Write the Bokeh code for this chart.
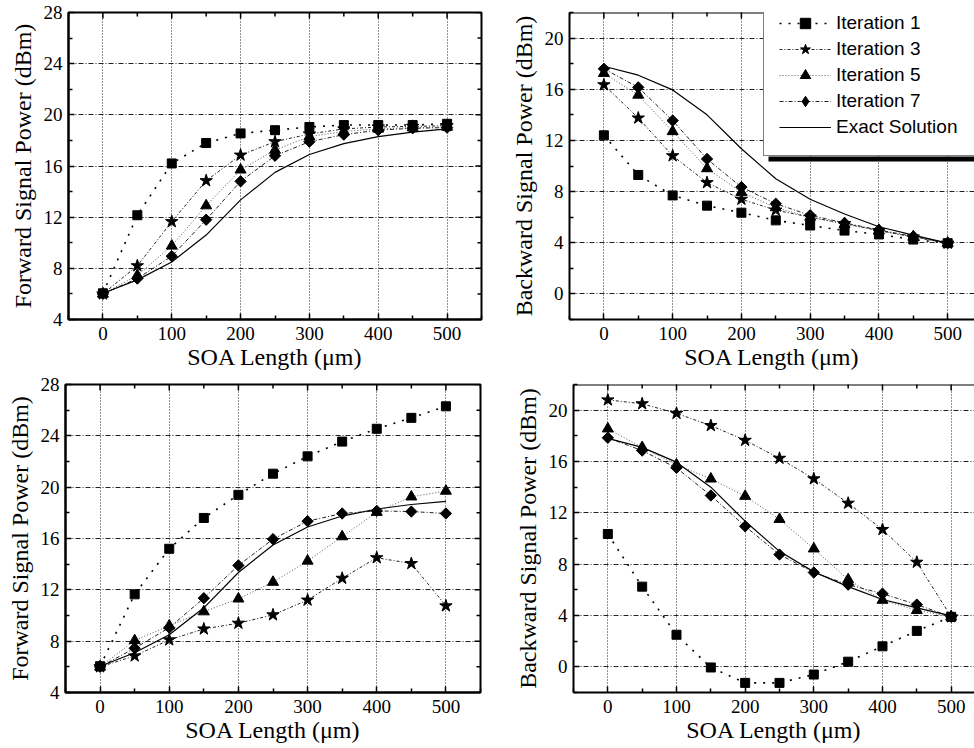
from bokeh.plotting import figure
from bokeh.layouts import column, row
from bokeh.models import Range1d, FixedTicker, Legend, LegendItem, BoxAnnotation, Span
from bokeh.embed import file_html
from bokeh.resources import INLINE

# ---------------- data ----------------
length_um = [0, 50, 100, 150, 200, 250, 300, 350, 400, 450, 500]

x_ticks = [0, 100, 200, 300, 400, 500]
x_minor = [-50, 50, 150, 250, 350, 450, 550]
fwd_ticks = [4, 8, 12, 16, 20, 24, 28]
fwd_minor = [6, 10, 14, 18, 22, 26]
bwd_ticks = [0, 4, 8, 12, 16, 20]
bwd_minor = [-2, 2, 6, 10, 14, 18, 22]

# exact solutions
fwd_exact = [6.05, 7.1, 8.5, 10.6, 13.35, 15.5, 16.9, 17.75, 18.3, 18.65, 18.9]
bwd_exact = [17.8, 17.1, 15.95, 14.0, 11.35, 9.0, 7.4, 6.25, 5.25, 4.6, 3.97]

# panel (top-left): forward power
fwd_a_iter1 = [6.05, 12.15, 16.2, 17.8, 18.55, 18.8, 19.05, 19.2, 19.2, 19.2, 19.3]
fwd_a_iter3 = [6.0, 8.2, 11.65, 14.85, 16.85, 17.9, 18.5, 18.9, 19.05, 19.1, 19.15]
fwd_a_iter5 = [6.0, 7.45, 9.75, 12.9, 15.7, 17.25, 18.3, 18.7, 18.9, 19.0, 19.05]
fwd_a_iter7 = [6.0, 7.2, 8.95, 11.8, 14.8, 16.8, 17.9, 18.45, 18.8, 18.95, 19.0]

# panel (top-right): backward power
bwd_b_iter1 = [12.4, 9.3, 7.7, 6.9, 6.35, 5.75, 5.35, 4.95, 4.65, 4.25, 3.97]
bwd_b_iter3 = [16.35, 13.75, 10.8, 8.7, 7.4, 6.55, 6.0, 5.5, 4.95, 4.45, 3.97]
bwd_b_iter5 = [17.25, 15.55, 12.7, 9.8, 7.95, 6.75, 6.0, 5.45, 4.95, 4.45, 3.97]
bwd_b_iter7 = [17.6, 16.15, 13.55, 10.55, 8.35, 7.05, 6.15, 5.55, 5.0, 4.5, 3.97]

# panel (bottom-left): forward power
fwd_c_iter1 = [6.05, 11.65, 15.2, 17.6, 19.4, 21.05, 22.4, 23.55, 24.55, 25.4, 26.3]
fwd_c_iter3 = [6.0, 6.85, 8.1, 8.95, 9.4, 10.05, 11.2, 12.9, 14.5, 14.05, 10.75]
fwd_c_iter5 = [6.0, 8.05, 9.2, 10.3, 11.3, 12.6, 14.25, 16.15, 18.05, 19.25, 19.7]
fwd_c_iter7 = [6.0, 7.45, 9.05, 11.35, 13.9, 15.95, 17.35, 17.95, 18.15, 18.1, 17.95]

# panel (bottom-right): backward power
bwd_d_iter1 = [10.35, 6.25, 2.5, -0.05, -1.25, -1.25, -0.6, 0.4, 1.6, 2.8, 3.9]
bwd_d_iter3 = [20.8, 20.5, 19.75, 18.8, 17.65, 16.25, 14.65, 12.75, 10.7, 8.15, 3.9]
bwd_d_iter5 = [18.55, 17.1, 15.75, 14.65, 13.3, 11.5, 9.2, 6.8, 5.2, 4.4, 3.9]
bwd_d_iter7 = [17.85, 16.85, 15.5, 13.35, 10.95, 8.75, 7.35, 6.4, 5.7, 4.85, 3.9]

series_labels = ["Iteration 1", "Iteration 3", "Iteration 5", "Iteration 7", "Exact Solution"]

SERIF = "Liberation Serif"
SANS = "Liberation Sans"
ROT = 0.7853981633974483

# style per series: (line_dash, line_color, line_width, marker, marker_size, angle, legend_marker)
styles = [
    ("2 7", "black", 1.6, "square", 9, 0.0, None),
    ("3 2 1 2", "#222222", 1.0, "star", 13, 0.0, None),
    ("1 2", "#555555", 1.0, "triangle", 11, 0.0, None),
    ("4 2 1 2", "#222222", 1.0, "square", 8, ROT, "diamond"),
    ("solid", "black", 1.2, None, 0, 0.0, None),
]


def style_axis(ax):
    ax.axis_line_width = 2
    ax.axis_line_color = "black"
    ax.major_tick_in = 6
    ax.major_tick_out = 0
    ax.minor_tick_in = 4
    ax.minor_tick_out = 0
    ax.major_tick_line_width = 1.5
    ax.minor_tick_line_width = 1.5
    ax.major_tick_line_color = "black"
    ax.minor_tick_line_color = "black"
    ax.major_label_text_font = SERIF
    ax.major_label_text_font_size = "19px"
    ax.major_label_text_color = "black"
    ax.axis_label_text_font = SERIF
    ax.axis_label_text_font_size = "24px"
    ax.axis_label_text_font_style = "normal"
    ax.axis_label_text_color = "black"


def make_panel(width, height, mb_left, mb_right, mb_top, mb_bottom, x_end,
               y_start, y_end, yt, ym, ylabel, ys, right_side):
    p = figure(width=width, height=height, output_backend="svg", toolbar_location=None,
               x_range=Range1d(-50, x_end), y_range=Range1d(y_start, y_end),
               min_border_left=mb_left, min_border_right=mb_right,
               min_border_top=mb_top, min_border_bottom=mb_bottom)
    p.background_fill_color = "white"
    p.border_fill_color = "white"
    if right_side:
        p.outline_line_color = "black"
        p.outline_line_width = 2
    else:
        p.outline_line_color = None
        p.add_layout(Span(location=y_end, dimension="width", line_color="black", line_width=2))
    p.xaxis.ticker = FixedTicker(ticks=x_ticks, minor_ticks=x_minor)
    p.yaxis.ticker = FixedTicker(ticks=yt, minor_ticks=ym)
    p.xaxis.axis_label = "SOA Length (μm)"
    p.yaxis.axis_label = ylabel
    style_axis(p.xaxis[0])
    style_axis(p.yaxis[0])
    p.xaxis.major_label_standoff = 7
    p.xaxis.axis_label_standoff = 1
    p.yaxis.major_label_standoff = 6
    p.yaxis.axis_label_standoff = 5
    p.xgrid.grid_line_color = "#222222"
    p.xgrid.grid_line_dash = "1 2"
    p.xgrid.grid_line_width = 1
    p.ygrid.grid_line_color = "#222222"
    p.ygrid.grid_line_dash = "5 2 1 2"
    p.ygrid.grid_line_width = 1

    # inward ticks on the top edge (and right edge), half of each dash is clipped by the frame
    p.scatter(x_ticks, [y_end] * len(x_ticks), marker="dash", angle=ROT * 2, size=12,
              line_color="black", line_width=1.5)
    p.scatter(x_minor, [y_end] * len(x_minor), marker="dash", angle=ROT * 2, size=8,
              line_color="black", line_width=1.5)
    if right_side:
        p.scatter([x_end] * len(yt), yt, marker="dash", size=12, line_color="black", line_width=1.5)
        p.scatter([x_end] * len(ym), ym, marker="dash", size=8, line_color="black", line_width=1.5)

    items = []
    for lab, yv, st in zip(series_labels, ys, styles):
        dash, col, lw, mk, ms, ang, lmk = st
        rs = [p.line(length_um, yv, line_color=col, line_width=lw, line_dash=dash)]
        if mk is not None:
            if lmk is not None:
                # narrow diamond (used by the legend), hidden under the rotated square
                rs.append(p.scatter(length_um, yv, marker=lmk, size=ms + 2,
                                    fill_color="black", line_color="black"))
            r = p.scatter(length_um, yv, marker=mk, size=ms, angle=ang,
                          fill_color="black", line_color="black")
            if lmk is None:
                rs.append(r)
        items.append(LegendItem(label=lab, renderers=rs))
    return p, items


p1, _ = make_panel(490, 372, 68, 9, 12, 52, 550, 4, 28, fwd_ticks, fwd_minor,
                   "Forward Signal Power (dBm)",
                   [fwd_a_iter1, fwd_a_iter3, fwd_a_iter5, fwd_a_iter7, fwd_exact], True)
p2, items2 = make_panel(484, 372, 79, 0, 12, 52, 539, -2, 22, bwd_ticks, bwd_minor,
                        "Backward Signal Power (dBm)",
                        [bwd_b_iter1, bwd_b_iter3, bwd_b_iter5, bwd_b_iter7, bwd_exact], False)
p3, _ = make_panel(490, 376, 65, 10, 12, 56, 550, 4, 28, fwd_ticks, fwd_minor,
                   "Forward Signal Power (dBm)",
                   [fwd_c_iter1, fwd_c_iter3, fwd_c_iter5, fwd_c_iter7, fwd_exact], True)
p4, _ = make_panel(484, 376, 83, 0, 12, 56, 534, -2, 22, bwd_ticks, bwd_minor,
                   "Backward Signal Power (dBm)",
                   [bwd_d_iter1, bwd_d_iter3, bwd_d_iter5, bwd_d_iter7, bwd_exact], False)

shadow = BoxAnnotation(left=199, right=430, bottom=158, top=163,
                       left_units="screen", right_units="screen",
                       bottom_units="screen", top_units="screen",
                       fill_color="black", fill_alpha=1.0, line_color=None)
p2.add_layout(shadow)

legend = Legend(items=items2, location=(194, 163), margin=0, padding=15,
                label_text_font=SANS, label_text_font_size="19px",
                label_text_color="black",
                glyph_width=52, glyph_height=26, label_height=22, label_width=140,
                label_standoff=5, spacing=-3,
                border_line_color="black", border_line_width=1,
                background_fill_color="white", background_fill_alpha=1.0)
p2.add_layout(legend)

layout = column(row(p1, p2, spacing=0), row(p3, p4, spacing=0), spacing=0)

open("out.html", "w").write(file_html(layout, INLINE))
